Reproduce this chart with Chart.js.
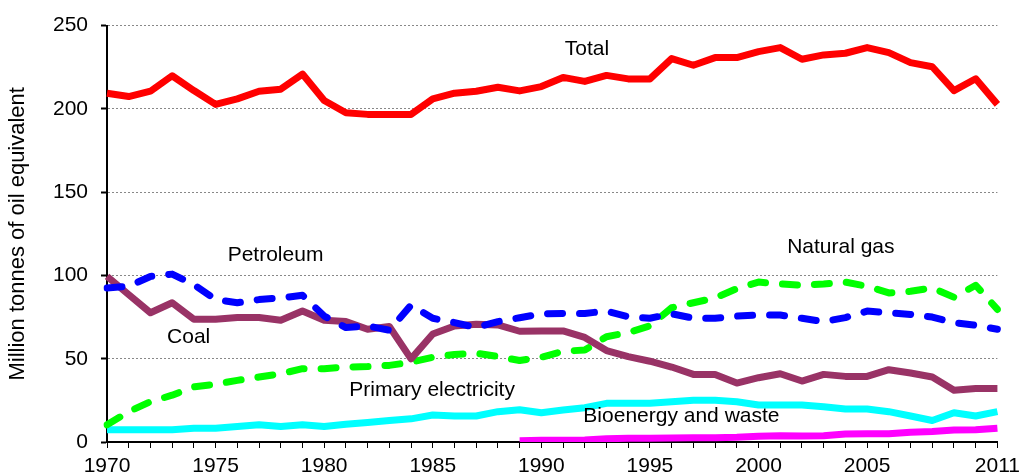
<!DOCTYPE html>
<html>
<head>
<meta charset="utf-8">
<script src="https://cdn.jsdelivr.net/npm/chart.js@4"></script>
<style>
  html, body { margin: 0; padding: 0; background: #fff; }
  #wrap { width: 1026px; height: 476px; }
</style>
</head>
<body>
<div id="wrap"><canvas id="energyChart" width="1026" height="476"></canvas></div>
<script>
// Years 1970..2011
var years = [];
for (var y = 1970; y <= 2011; y++) years.push(String(y));

var yTicks = [0, 50, 100, 150, 200, 250];

// Million tonnes of oil equivalent
var total = [209.4, 207.4, 210.6, 219.9, 211, 202.7, 206, 210.6, 211.8, 220.9,
    205, 197.7, 196.7, 196.7, 196.7, 206, 209.4, 210.6, 213, 210.8,
    213.4, 218.9, 216.5, 220.1, 218, 218, 230.2, 226.2, 230.8, 230.8,
    234.4, 236.8, 229.8, 232.4, 233.4, 236.8, 233.8, 227.8, 225.3, 211,
    218.1, 202.7];
var petroleum = [92.5, 93.5, 99.4, 100.8, 94.5, 85.5, 83.6, 85.5, 86.5, 88.1,
    75.6, 68.7, 69.7, 67.1, 82.2, 74.3, 71.7, 68.7, 72.3, 74.6,
    77, 77.2, 77.2, 78.6, 75.2, 74.3, 77, 74.3, 74.3, 75.6,
    76.2, 76.2, 74.3, 72.3, 74.7, 78.6, 77.6, 76.6, 75, 71.7,
    70.1, 67.7];
var coal = [99.4, 88.5, 77.6, 83.6, 73.7, 73.7, 74.7, 74.7, 73.1, 78.6,
    73.1, 72.3, 67.7, 69.3, 49.9, 64.8, 69.7, 70.7, 70.3, 66.5,
    66.7, 66.7, 62.8, 54.9, 51.3, 48.5, 45, 40.6, 40.6, 35.4,
    38.6, 41, 36.6, 40.6, 39.4, 39.4, 43.4, 41.4, 39, 31.1,
    32.1, 32.1];
var naturalGas = [10.3, 18.2, 24.2, 28.1, 33.1, 34.7, 37, 39, 41, 44,
    44, 45, 45.3, 46, 47.9, 50.9, 52.5, 53.3, 51.3, 48.9,
    50.9, 54.5, 55.2, 63.2, 65.7, 69.7, 80.6, 83.6, 86.5, 92.1,
    96, 94.9, 94.1, 94.9, 96, 93.5, 89.5, 90.5, 92.5, 86.9,
    94.1, 79.6];
var primaryElectricity = [7.3, 7.3, 7.3, 7.3, 8.3, 8.3, 9.3, 10.3, 9.3, 10.3,
    9.3, 10.7, 11.7, 12.9, 13.9, 16.2, 15.6, 15.6, 18.2, 19.4,
    17.6, 19.2, 20.6, 23.2, 23.2, 23.2, 24.2, 25.1, 25.1, 24.2,
    22.2, 22.2, 22.2, 21.2, 19.8, 19.8, 18.2, 15.6, 12.9, 17.6,
    15.6, 18.2];
var bioenergy = [null, null, null, null, null, null, null, null, null, null,
    null, null, null, null, null, null, null, null, null, 0.8,
    1, 1, 1.2, 2, 2.2, 2.3, 2.4, 2.5, 2.6, 2.8,
    3.4, 3.8, 3.6, 3.8, 4.8, 4.9, 5, 5.9, 6.3, 7.2,
    7.3, 8.3];

var seriesNames = ["Total", "Petroleum", "Coal", "Natural gas", "Primary electricity", "Bioenergy and waste"];

var FONT = "'Liberation Sans', Arial, sans-serif";

// in-chart series labels, anchored in data coordinates (year, value)
var seriesLabels = [
    { text: "Total", x: 1992.1, y: 235.7 },
    { text: "Petroleum", x: 1977.76, y: 112.2 },
    { text: "Coal", x: 1973.76, y: 62.9 },
    { text: "Natural gas", x: 2003.79, y: 117 },
    { text: "Primary electricity", x: 1984.97, y: 30.9 },
    { text: "Bioenergy and waste", x: 1996.45, y: 15.4 }
];

var labelPlugin = {
    id: "seriesLabels",
    afterDatasetsDraw: function (chart) {
        var ctx = chart.ctx;
        var xs = chart.scales.x, ys = chart.scales.y;
        ctx.save();
        ctx.font = "21px " + FONT;
        ctx.fillStyle = "#000";
        ctx.textAlign = "center";
        ctx.textBaseline = "middle";
        seriesLabels.forEach(function (l) {
            var px = xs.getPixelForValue(l.x - 1970);
            var py = ys.getPixelForValue(l.y);
            ctx.fillText(l.text, px, py);
        });
        ctx.restore();
    }
};

function line(label, data, color, dashed) {
    return {
        label: label,
        data: data,
        borderColor: color,
        backgroundColor: color,
        borderWidth: 7,
        borderDash: dashed ? [15, 17] : [],
        borderCapStyle: dashed ? "round" : "butt",
        borderJoinStyle: "round",
        pointRadius: 0,
        tension: 0,
        fill: false,
        spanGaps: false
    };
}

new Chart(document.getElementById("energyChart"), {
    type: "line",
    data: {
        labels: years,
        datasets: [
            line(seriesNames[0], total, "#ff0000", false),
            line(seriesNames[5], bioenergy, "#ff00ff", false),
            line(seriesNames[1], petroleum, "#0000ff", true),
            line(seriesNames[2], coal, "#993366", false),
            line(seriesNames[3], naturalGas, "#00ff00", true),
            line(seriesNames[4], primaryElectricity, "#00ffff", false)
        ]
    },
    options: {
        responsive: false,
        animation: false,
        devicePixelRatio: 1,
        layout: { padding: { left: 0, right: 26, top: 21, bottom: 0 } },
        plugins: {
            legend: { display: false },
            tooltip: { enabled: false }
        },
        scales: {
            x: {
                type: "category",
                offset: false,
                grid: { drawOnChartArea: false, drawTicks: true, tickLength: 6, color: "#000", lineWidth: 1 },
                border: { color: "#000", width: 2 },
                ticks: {
                    autoSkip: false,
                    maxRotation: 0,
                    padding: 6,
                    color: "#000",
                    font: { family: FONT, size: 21 },
                    callback: function (value) {
                        var yr = Number(this.getLabelForValue(value));
                        if (yr === 2011 || (yr % 5 === 0 && yr !== 2010)) return String(yr);
                        return "";
                    }
                },
                afterFit: function (scale) { scale.height = 34; }
            },
            y: {
                min: yTicks[0],
                max: yTicks[yTicks.length - 1],
                afterBuildTicks: function (scale) {
                    scale.ticks = yTicks.map(function (v) { return { value: v }; });
                },
                grid: { color: "#888", lineWidth: 1, tickColor: "#000", tickLength: 6, tickWidth: 2, tickBorderDash: [6, 0] },
                border: { color: "#000", width: 2, dash: [2, 2] },
                ticks: {
                    padding: 13,
                    color: "#000",
                    font: { family: FONT, size: 21 }
                },
                title: {
                    display: true,
                    text: "Million tonnes of oil equivalent",
                    color: "#000",
                    font: { family: FONT, size: 22 },
                    padding: { top: 5, bottom: 0 }
                },
                afterFit: function (scale) { scale.width = 107; }
            }
        }
    },
    plugins: [labelPlugin]
});
</script>
</body>
</html>
